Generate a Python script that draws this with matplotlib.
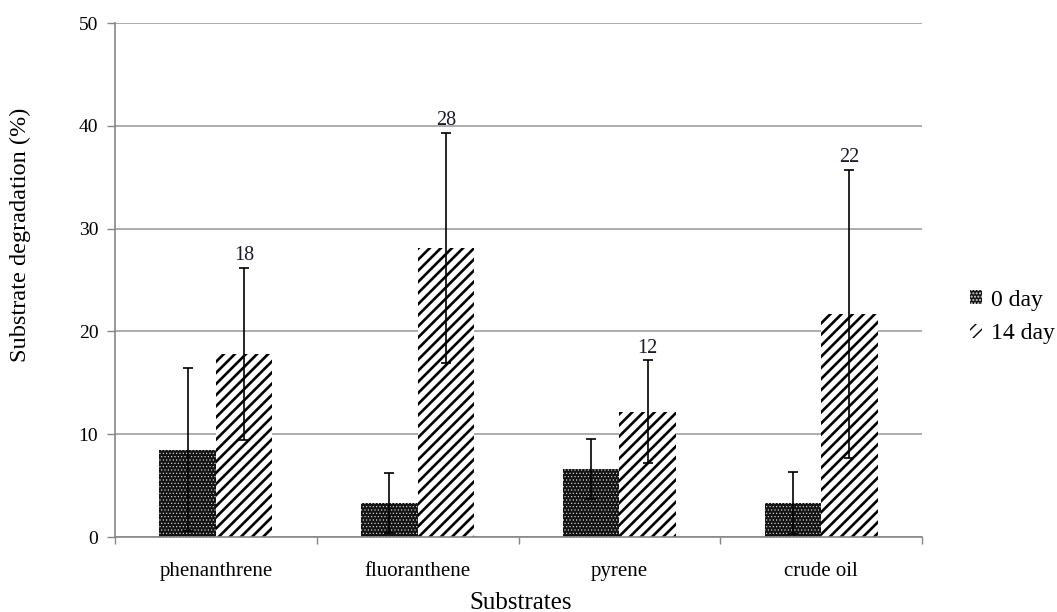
import numpy as np
import matplotlib
matplotlib.use('Agg')
import matplotlib.pyplot as plt

# Data
substrates = ['phenanthrene', 'fluoranthene', 'pyrene', 'crude oil']
day0 = [8.5, 3.3, 6.6, 3.3]
day0_err = [7.9, 2.9, 2.9, 3.0]
day14 = [17.8, 28.1, 12.2, 21.7]
day14_err = [8.4, 11.2, 5.0, 14.0]
day14_labels = ['18', '28', '12', '22']

GRID = '#a6a6a6'
SPINE = '#868686'

plt.rcParams['font.family'] = ['Liberation Serif', 'DejaVu Serif']

fig = plt.figure(figsize=(10.57, 6.12), dpi=100)
ax = fig.add_axes([115 / 1057, 1 - 537 / 612, (922 - 115) / 1057, (537 - 23) / 612])

x = np.arange(len(substrates))
w = 0.28

# fine white dots on black for 0 day, dense diagonal stripes for 14 day
with plt.rc_context({'hatch.linewidth': 0.45}):
    bars0 = ax.bar(x - w / 2, day0, w, facecolor='#141414', edgecolor='#d8d8d8',
                   hatch='.....', linewidth=0, zorder=2, label='0 day')
with plt.rc_context({'hatch.linewidth': 1.9}):
    bars14 = ax.bar(x + w / 2, day14, w, facecolor='white', edgecolor='black',
                    hatch='///', linewidth=0, zorder=2, label='14 day')
for b in bars0:
    if hasattr(b, 'set_hatch_linewidth'):
        b.set_hatch_linewidth(0.45)
for b in bars14:
    if hasattr(b, 'set_hatch_linewidth'):
        b.set_hatch_linewidth(1.9)

ax.errorbar(x - w / 2, day0, yerr=day0_err, fmt='none', ecolor='black',
            elinewidth=1.2, capsize=3.5, capthick=1.2, zorder=3)
ax.errorbar(x + w / 2, day14, yerr=day14_err, fmt='none', ecolor='black',
            elinewidth=1.2, capsize=3.5, capthick=1.2, zorder=3)

for xi, top, lab in zip(x + w / 2, np.array(day14) + np.array(day14_err), day14_labels):
    ax.text(xi, top + 0.25, lab, ha='center', va='bottom', fontsize=14.5, color='#1a1a2a')

ax.set_xlim(-0.5, len(substrates) - 0.5)
ax.set_ylim(0, 50)
ax.set_yticks(np.arange(0, 51, 10))
ax.set_xticks(x)
ax.set_xticklabels(substrates, fontsize=15)
ax.set_xticks(np.arange(-0.5, len(substrates), 1), minor=True)
ax.tick_params(axis='x', which='major', length=0, pad=18)
ax.tick_params(axis='x', which='minor', length=5, color=SPINE, width=1, direction='out')
ax.tick_params(axis='y', length=6, color=SPINE, width=1, labelsize=14, pad=6)

ax.yaxis.grid(True, color=GRID, linewidth=1.3, zorder=0)
ax.set_axisbelow(True)
for s in ['top', 'right']:
    ax.spines[s].set_visible(False)
for s in ['left', 'bottom']:
    ax.spines[s].set_color(SPINE)
    ax.spines[s].set_linewidth(1.2)

fig.text(20 / 1057, 1 - 235 / 612, 'Substrate degradation (%)', rotation=90,
         ha='center', va='center', fontsize=17.5)
fig.text(521 / 1057, 1 - 603 / 612, 'Substrates', ha='center', va='center', fontsize=18)

leg = ax.legend(loc='center left', bbox_to_anchor=(970 / 1057, 1 - 317 / 612),
                bbox_transform=fig.transFigure, frameon=False, fontsize=17,
                handlelength=0.5, handleheight=0.5, handletextpad=0.4,
                labelspacing=0.55, borderaxespad=0, borderpad=0)

fig.savefig('out.png', dpi=100, facecolor='white')
